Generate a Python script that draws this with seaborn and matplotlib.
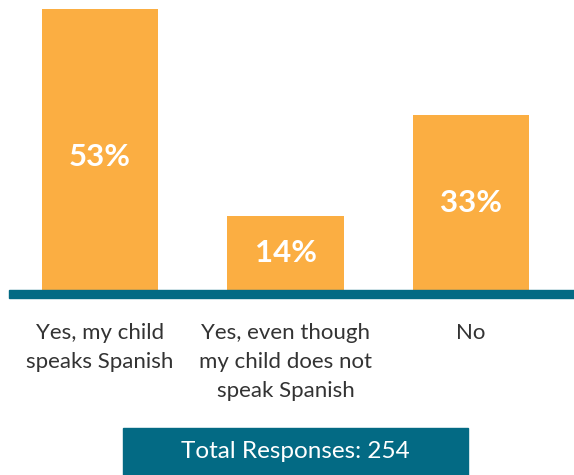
import matplotlib
matplotlib.use("Agg")
import matplotlib.pyplot as plt
from matplotlib.patches import Rectangle
import seaborn as sns
import pandas as pd

categories = ["Yes, my child\nspeaks Spanish",
              "Yes, even though\nmy child does not\nspeak Spanish",
              "No"]
values = [53, 14, 33]
value_labels = ["53%", "14%", "33%"]
total_text = "Total Responses: 254"

ORANGE = "#FBAE42"
TEAL = "#036A84"
TEXT = "#333333"

sns.set_theme(style="white")
plt.rcParams['font.family'] = ['Lato', 'DejaVu Sans']

W, H = 574, 475
fig = plt.figure(figsize=(W / 100, H / 100), dpi=100)
ax = fig.add_axes([0, (H - 290) / H, 1, 281 / H])

df = pd.DataFrame({"cat": categories, "val": values})
sns.barplot(data=df, x="cat", y="val", color=ORANGE, saturation=1,
            width=0.63, ax=ax)
for p in ax.patches:
    p.set_edgecolor("none")

ax.set_ylim(0, 53)
ax.set_xlim(-0.539, 2.555)
ax.set_xlabel("")
ax.set_ylabel("")
ax.set_yticks([])
ax.set_xticks([])
for s in ax.spines.values():
    s.set_visible(False)

for i, (v, lab) in enumerate(zip(values, value_labels)):
    ax.text(i, v / 2 - (1.5 if i == 0 else 0), lab, ha="center", va="center",
            color="white", fontsize=22.5, fontweight="bold")
    ax.text(i, -6.3, categories[i], ha="center", va="top", color=TEXT,
            fontsize=16, linespacing=1.55, fontweight="normal")

# baseline
fig.patches.append(Rectangle((9 / W, (H - 298) / H), (W - 9) / W, 8 / H,
                             transform=fig.transFigure, color=TEAL, zorder=5))
# total responses box
fig.patches.append(Rectangle((123 / W, 0), (468 - 123) / W, (475 - 428) / H,
                             transform=fig.transFigure, color=TEAL, zorder=5))
fig.text((123 + 468) / 2 / W, (475 - 452) / H, total_text, ha="center",
         va="center", color="white", fontsize=17.5, zorder=6)

fig.savefig("out.png", dpi=100)
